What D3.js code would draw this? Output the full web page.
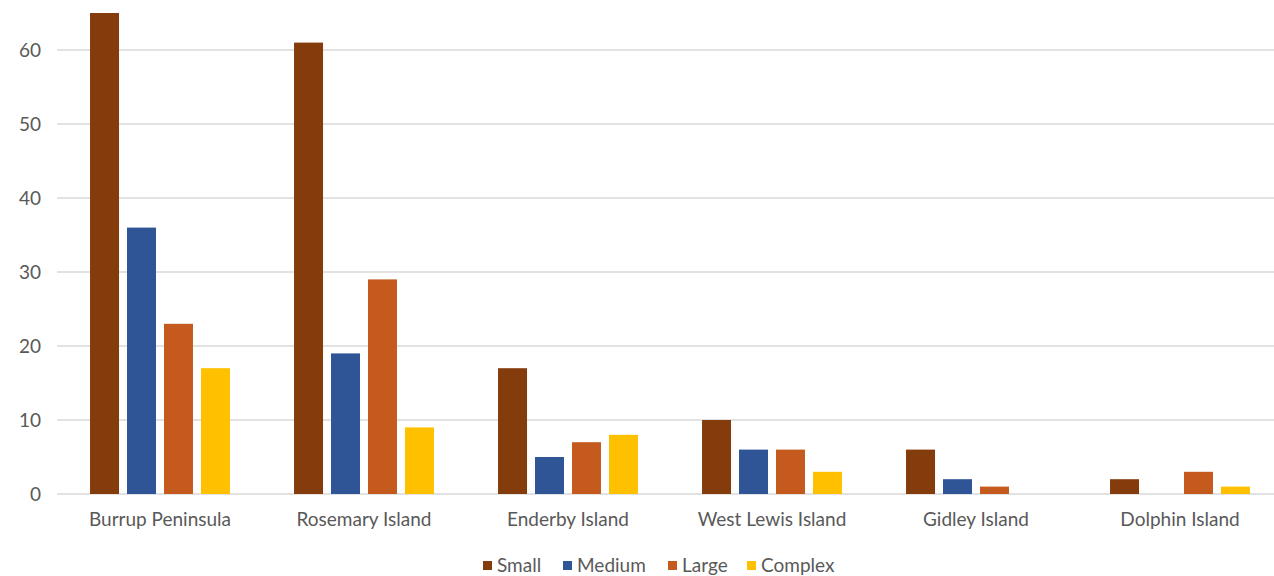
<!DOCTYPE html>
<meta charset="utf-8">
<head>
    <script src="https://d3js.org/d3.v7.min.js"></script>
    <style>
        body { margin: 0; background: white; }
        text { font-family: Lato, "Open Sans", sans-serif; fill: #595959; }
    </style>
</head>
<body>
<div id="chart"></div>
<script>
    const sites = ["Burrup Peninsula", "Rosemary Island", "Enderby Island", "West Lewis Island", "Gidley Island", "Dolphin Island"];
    const series = ["Small", "Medium", "Large", "Complex"];
    const colors = ["#843C0C", "#2F5597", "#C55A1E", "#FFC000"];

    const small = [65, 61, 17, 10, 6, 2];
    const medium = [36, 19, 5, 6, 2, 0];
    const large = [23, 29, 7, 6, 1, 3];
    const complex = [17, 9, 8, 3, 0, 1];
    const yTicks = [0, 10, 20, 30, 40, 50, 60];

    const values = [small, medium, large, complex];

    const width = 1274, height = 576;
    const svg = d3.select("#chart").append("svg")
        .attr("width", width)
        .attr("height", height);

    const x0 = d3.scaleBand()
        .domain(sites)
        .range([58, 1282])
        .paddingInner(0.314)
        .paddingOuter(0.157);

    const x1 = d3.scaleBand()
        .domain(series)
        .range([0, x0.bandwidth()])
        .paddingInner(0.216);

    const y = d3.scaleLinear()
        .domain([0, 60])
        .range([494, 50]);

    // gridlines
    svg.append("g")
        .selectAll("line")
        .data(yTicks)
        .join("line")
        .attr("x1", 57)
        .attr("x2", width)
        .attr("y1", d => y(d))
        .attr("y2", d => y(d))
        .attr("stroke", "#d9d9d9")
        .attr("stroke-width", 1.5);

    // y labels
    const leftAxis = d3.axisLeft(y).tickValues(yTicks).tickSize(0).tickPadding(0);
    const ga = svg.append("g")
        .attr("transform", "translate(41,0)")
        .call(leftAxis);
    ga.select(".domain").remove();
    ga.selectAll("text")
        .attr("font-size", 19)
        .style("font-family", "Lato, sans-serif")
        .attr("fill", "#595959");

    // bars
    const groups = svg.append("g")
        .selectAll("g")
        .data(sites)
        .join("g")
        .attr("transform", d => `translate(${x0(d)},0)`);

    groups.selectAll("rect")
        .data((d, i) => series.map((s, j) => ({ key: s, value: values[j][i], color: colors[j] })))
        .join("rect")
        .attr("x", d => x1(d.key))
        .attr("width", x1.bandwidth())
        .attr("y", d => y(d.value))
        .attr("height", d => y(0) - y(d.value))
        .attr("fill", d => d.color);

    // x labels
    const bottomAxis = d3.axisBottom(x0).tickSize(0).tickPadding(0);
    const gb = svg.append("g")
        .attr("transform", "translate(0,512)")
        .call(bottomAxis);
    gb.select(".domain").remove();
    gb.selectAll("text")
        .attr("font-size", 19)
        .style("font-family", "Lato, sans-serif")
        .attr("fill", "#595959");

    // legend
    const legendX = [483, 563, 668, 747];
    const legend = svg.append("g");
    legend.selectAll("rect")
        .data(series)
        .join("rect")
        .attr("x", (d, i) => legendX[i])
        .attr("y", 561)
        .attr("width", 9)
        .attr("height", 9)
        .attr("fill", (d, i) => colors[i]);
    legend.selectAll("text")
        .data(series)
        .join("text")
        .attr("x", (d, i) => legendX[i] + 14)
        .attr("y", 572)
        .attr("font-size", 19)
        .text(d => d);
</script>
</body>
